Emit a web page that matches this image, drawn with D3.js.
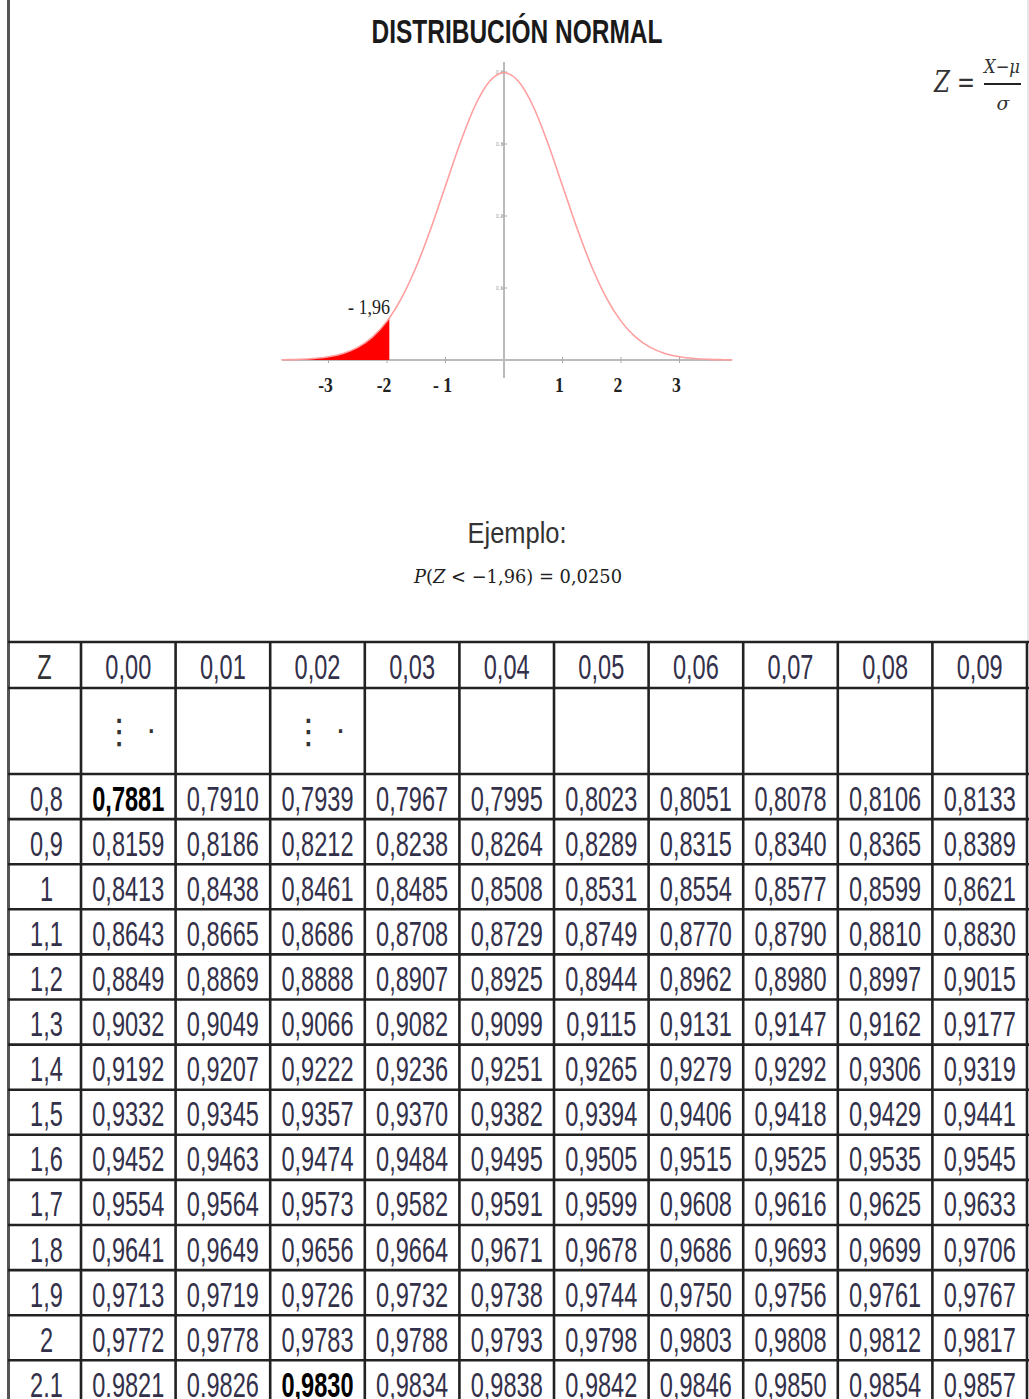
<!DOCTYPE html>
<html><head><meta charset="utf-8">
<script src="https://cdn.jsdelivr.net/npm/d3@7/dist/d3.min.js"></script>
<style>
html,body{margin:0;padding:0;background:#fff;}
svg{display:block;}
</style></head>
<body>
<script>
// ---- Data ----
const colHeaders = ["0,00","0,01","0,02","0,03","0,04","0,05","0,06","0,07","0,08","0,09"];
const rowLabels = ["0,8","0,9","1","1,1","1,2","1,3","1,4","1,5","1,6","1,7","1,8","1,9","2","2.1"];
const tableValues = [
 ["0,7881","0,7910","0,7939","0,7967","0,7995","0,8023","0,8051","0,8078","0,8106","0,8133"],
 ["0,8159","0,8186","0,8212","0,8238","0,8264","0,8289","0,8315","0,8340","0,8365","0,8389"],
 ["0,8413","0,8438","0,8461","0,8485","0,8508","0,8531","0,8554","0,8577","0,8599","0,8621"],
 ["0,8643","0,8665","0,8686","0,8708","0,8729","0,8749","0,8770","0,8790","0,8810","0,8830"],
 ["0,8849","0,8869","0,8888","0,8907","0,8925","0,8944","0,8962","0,8980","0,8997","0,9015"],
 ["0,9032","0,9049","0,9066","0,9082","0,9099","0,9115","0,9131","0,9147","0,9162","0,9177"],
 ["0,9192","0,9207","0,9222","0,9236","0,9251","0,9265","0,9279","0,9292","0,9306","0,9319"],
 ["0,9332","0,9345","0,9357","0,9370","0,9382","0,9394","0,9406","0,9418","0,9429","0,9441"],
 ["0,9452","0,9463","0,9474","0,9484","0,9495","0,9505","0,9515","0,9525","0,9535","0,9545"],
 ["0,9554","0,9564","0,9573","0,9582","0,9591","0,9599","0,9608","0,9616","0,9625","0,9633"],
 ["0,9641","0,9649","0,9656","0,9664","0,9671","0,9678","0,9686","0,9693","0,9699","0,9706"],
 ["0,9713","0,9719","0,9726","0,9732","0,9738","0,9744","0,9750","0,9756","0,9761","0,9767"],
 ["0,9772","0,9778","0,9783","0,9788","0,9793","0,9798","0,9803","0,9808","0,9812","0,9817"],
 ["0.9821","0.9826","0,9830","0,9834","0,9838","0,9842","0,9846","0,9850","0,9854","0,9857"]
];
const boldCells = [[0,0],[13,2]];
const ellipsisCols = [0,2];
// density curve (z, height)
const curveZ = [-3.8,-3.75,-3.5,-3.25,-3,-2.75,-2.5,-2.25,-2,-1.96,-1.75,-1.5,-1.25,-1,-0.75,-0.5,-0.25,0,0.25,0.5,0.75,1,1.25,1.5,1.75,2,2.25,2.5,2.75,3,3.25,3.5,3.75,3.9];
const curveY = [0.0003,0.0004,0.0009,0.0020,0.0044,0.0091,0.0175,0.0317,0.0540,0.0584,0.0863,0.1295,0.1826,0.2420,0.3011,0.3521,0.3867,0.3989,0.3867,0.3521,0.3011,0.2420,0.1826,0.1295,0.0863,0.0540,0.0317,0.0175,0.0091,0.0044,0.0020,0.0009,0.0004,0.0002];
const shadeLimit = -1.96;
const xTicks = [-3,-2,-1,1,2,3];
const xTickLabels = ["-3","-2","- 1","1","2","3"];
const yTicks = [0.1,0.2,0.3,0.4];

const W = 1029, H = 1399;
const svg = d3.select("body").append("svg").attr("width", W).attr("height", H);
const NARROW = "'Liberation Sans Narrow','Arial Narrow','Liberation Sans',Arial,sans-serif";
const SANS = "'Liberation Sans',Arial,sans-serif";
const SERIF = "'Liberation Serif','Times New Roman',serif";

function fitW(sel, w){ sel.attr("textLength", w).attr("lengthAdjust","spacingAndGlyphs"); }

// borders
svg.append("line").attr("x1",8.5).attr("x2",8.5).attr("y1",0).attr("y2",H).attr("stroke","#555").attr("stroke-width",3);
svg.append("line").attr("x1",1028).attr("x2",1028).attr("y1",0).attr("y2",642).attr("stroke","#ccc").attr("stroke-width",1);

// Title
svg.append("text").attr("x",517).attr("y",43).attr("text-anchor","middle")
  .style("font-family",NARROW).style("font-size","34px").style("font-weight","bold").attr("fill","#1a1a1a")
  .text("DISTRIBUCIÓN NORMAL").call(fitW,291);

// Formula Z = (X-μ)/σ
const fz = svg.append("g").style("font-family","'DejaVu Serif',serif").attr("fill","#333");
fz.append("text").attr("x",934).attr("y",92).style("font-size","30px").style("font-style","italic").text("Z").call(fitW,16);
fz.append("text").attr("x",957).attr("y",92).style("font-size","30px").text("=").call(fitW,18);
fz.append("text").attr("x",1002).attr("y",73).attr("text-anchor","middle").style("font-size","19px").style("font-style","italic").text("X−μ").call(fitW,36);
fz.append("line").attr("x1",984).attr("x2",1021).attr("y1",84).attr("y2",84).attr("stroke","#222").attr("stroke-width",2);
fz.append("text").attr("x",1003).attr("y",110).attr("text-anchor","middle").style("font-size","19px").style("font-style","italic").text("σ");

// Normal curve
const x = d3.scaleLinear().domain([-3.8,3.9]).range([504-3.8*58.5, 504+3.9*58.5]);
const y = d3.scaleLinear().domain([0,0.4]).range([360,72]);
const pts = curveZ.map((z,i)=>({z, d:curveY[i]}));
const g = svg.append("g");
g.append("line").attr("x1",x(-3.8)).attr("x2",x(3.9)).attr("y1",y(0)).attr("y2",y(0)).attr("stroke","#bbb").attr("stroke-width",2);
g.append("line").attr("x1",x(0)).attr("x2",x(0)).attr("y1",62).attr("y2",378).attr("stroke","#bbb").attr("stroke-width",2);
g.selectAll(".xt").data(xTicks).join("line").attr("x1",d=>x(d)).attr("x2",d=>x(d)).attr("y1",y(0)-3).attr("y2",y(0)+3).attr("stroke","#aaa");
g.selectAll(".yt").data(yTicks).join("line").attr("x1",x(0)-3).attr("x2",x(0)+3).attr("y1",d=>y(d)).attr("y2",d=>y(d)).attr("stroke","#aaa");
g.selectAll(".ytl").data(yTicks).join("text").attr("x",x(0)-1).attr("y",d=>y(d)+2).attr("text-anchor","end")
  .style("font-size","5px").style("font-family","sans-serif").attr("fill","#999").text(d=>d.toFixed(1));
const shade = pts.filter(p=>p.z<=shadeLimit);
g.append("path").datum(shade).attr("fill","#ff0000")
  .attr("d", d3.area().x(p=>x(p.z)).y0(y(0)).y1(p=>y(p.d)).curve(d3.curveMonotoneX));
g.append("path").datum(pts).attr("fill","none").attr("stroke","#ff9f9f").attr("stroke-width",1.6)
  .attr("d", d3.line().x(p=>x(p.z)).y(p=>y(p.d)).curve(d3.curveMonotoneX));
g.selectAll(".xl").data(xTicks).join("text")
  .attr("transform",d=>`translate(${x(d)-3},392) scale(0.8,1)`).attr("text-anchor","middle")
  .style("font-family",SERIF).style("font-size","22px").style("font-weight","bold").attr("fill","#222").text((d,i)=>xTickLabels[i]);
g.append("text").attr("x",369).attr("y",314).attr("text-anchor","middle").style("font-family",SERIF).style("font-size","21px").attr("fill","#222")
  .text("- 1,96").call(fitW,42);

// Ejemplo
svg.append("text").attr("x",517).attr("y",543).attr("text-anchor","middle").style("font-family",NARROW).style("font-size","30px").attr("fill","#333")
  .text("Ejemplo:").call(fitW,99);
const ex = svg.append("text").attr("x",518).attr("y",583).attr("text-anchor","middle").style("font-family","'DejaVu Serif',serif").style("font-size","19px").attr("fill","#222");
ex.append("tspan").style("font-style","italic").text("P");
ex.append("tspan").text("(");
ex.append("tspan").style("font-style","italic").text("Z");
ex.append("tspan").text(" < −1,96) = 0,0250");
ex.call(fitW,208);

// ---- Table ----
const tableTop = 642, headH = 46, dotsH = 86, rowH = 45.1;
const colX = d3.scaleBand().domain(d3.range(10)).range([81,1027]);
const firstColL = 8, firstColR = 81;
const rowY = d3.scaleBand().domain(d3.range(rowLabels.length)).range([tableTop+headH+dotsH, tableTop+headH+dotsH+rowH*rowLabels.length]);
const t = svg.append("g");
const LC = "#222", LW = 2.6;
const hLines = [tableTop, tableTop+headH, tableTop+headH+dotsH].concat(d3.range(1,rowLabels.length+1).map(i=>rowY(0)+rowH*i));
t.selectAll(".hl").data(hLines).join("line").attr("x1",firstColL).attr("x2",W).attr("y1",d=>d).attr("y2",d=>d).attr("stroke",LC).attr("stroke-width",LW);
const vLines = [firstColR].concat(d3.range(1,10).map(i=>colX(i)), [colX(9)+colX.bandwidth()]);
t.selectAll(".vl").data(vLines).join("line").attr("x1",d=>d).attr("x2",d=>d).attr("y1",tableTop).attr("y2",H).attr("stroke",LC).attr("stroke-width",LW);

// cell text: sans font compressed horizontally (cap height ~26px, width ~71px for 4-decimal values)
function cellText(sel, cx, cy){
  sel.attr("transform", (d,i)=>`translate(${typeof cx==="function"?cx(d,i):cx},${typeof cy==="function"?cy(d,i):cy}) scale(0.655,1)`)
    .attr("text-anchor","middle").attr("dominant-baseline","central")
    .style("font-family",SANS).style("font-size","36px");
  return sel;
}
const TXT = "#33304a";
t.append("text").datum("Z").call(cellText,(firstColL+firstColR)/2,tableTop+headH/2+1).attr("fill","#333").text("Z");
t.selectAll(".hd").data(colHeaders).join("text")
  .call(cellText,(d,i)=>colX(i)+colX.bandwidth()/2,tableTop+headH/2+1).attr("fill",TXT).text(d=>d);
ellipsisCols.forEach(c=>{
  const cx = colX(c)+colX.bandwidth()/2;
  t.append("text").attr("x",cx-9).attr("y",tableTop+headH+dotsH/2).attr("text-anchor","middle").attr("dominant-baseline","central")
    .style("font-family","'DejaVu Sans',sans-serif").style("font-size","34px").attr("fill","#333").text("⋮");
  t.append("text").attr("x",cx+23).attr("y",tableTop+headH+dotsH/2).attr("text-anchor","middle").attr("dominant-baseline","central")
    .style("font-family","'DejaVu Sans',sans-serif").style("font-size","30px").attr("fill","#333").text("·");
});
t.selectAll(".rl").data(rowLabels).join("text")
  .call(cellText,(firstColL+firstColR)/2+2,(d,i)=>rowY(i)+rowH/2+1).attr("fill",TXT).text(d=>d);
const isBold=(r,c)=>boldCells.some(b=>b[0]===r&&b[1]===c);
tableValues.forEach((row,r)=>{
  t.selectAll(".c"+r).data(row).join("text")
    .call(cellText,(d,c)=>colX(c)+colX.bandwidth()/2,rowY(r)+rowH/2+1)
    .attr("fill",(d,c)=>isBold(r,c)?"#000":TXT).style("font-weight",(d,c)=>isBold(r,c)?"bold":"normal")
    .text(d=>d);
});
</script>
</body></html>
